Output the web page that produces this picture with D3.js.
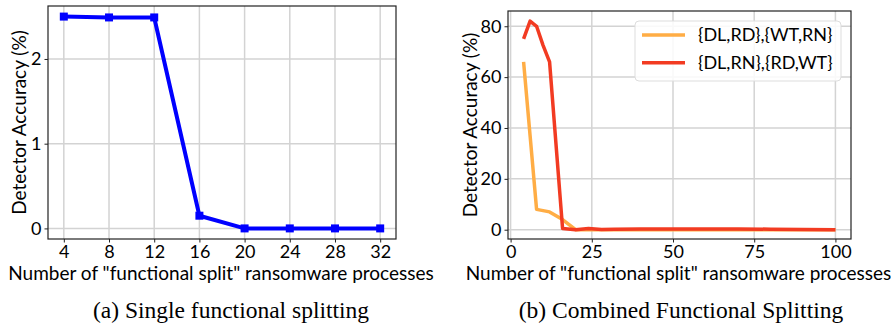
<!DOCTYPE html>
<html>
<head>
<meta charset="utf-8">
<script src="https://cdn.jsdelivr.net/npm/d3@7"></script>
<style>
  body { margin: 0; background: #fff; }
  text { font-family: Lato, "Open Sans", sans-serif; fill: #000; }
  .caption { font-family: "Liberation Serif", "DejaVu Serif", serif; }
</style>
</head>
<body>
<svg id="chart" width="891" height="327"></svg>
<script>
// (a) single functional splitting
const singleX = [4, 8, 12, 16, 20, 24, 28, 32];
const singleAcc = [2.5, 2.49, 2.49, 0.15, 0, 0, 0, 0];
const singleYTicks = [0, 1, 2];

// (b) combined functional splitting
const comboX = [4, 6, 8, 10, 12, 16, 20, 24, 28, 32, 40, 50, 60, 70, 80, 90, 100];
const dlrdAcc = [66, 37, 8, 7.5, 7, 4, 0, 0, 0, 0, 0, 0, 0, 0, 0, 0, 0];
const dlrnAcc = [75, 82, 80, 72.5, 66, 0.5, 0, 0.5, 0.1, 0.2, 0.3, 0.3, 0.3, 0.3, 0.2, 0.1, 0];
const comboXTicks = [0, 25, 50, 75, 100];
const comboYTicks = [0, 20, 40, 60, 80];
const seriesNames = ["{DL,RD},{WT,RN}", "{DL,RN},{RD,WT}"];

const xLabel = 'Number of "functional split" ransomware processes';
const yLabel = "Detector Accuracy (%)";

const svg = d3.select("#chart");
const fontSize = 18;

function panel(box, x, y, xTicks, yTicks) {
  const g = svg.append("g");

  // grid
  g.selectAll(".gx").data(xTicks).enter().append("line")
    .attr("x1", d => x(d)).attr("x2", d => x(d))
    .attr("y1", box.top).attr("y2", box.bottom)
    .attr("stroke", "#d3d3d3").attr("stroke-width", 1.5);
  g.selectAll(".gy").data(yTicks).enter().append("line")
    .attr("x1", box.left).attr("x2", box.right)
    .attr("y1", d => y(d)).attr("y2", d => y(d))
    .attr("stroke", "#d3d3d3").attr("stroke-width", 1.5);

  // axes
  const ax = g.append("g")
    .attr("transform", "translate(0," + box.bottom + ")")
    .call(d3.axisBottom(x).tickValues(xTicks).tickFormat(d3.format("d"))
      .tickSize(3.5).tickPadding(2.5).tickSizeOuter(0));
  const ay = g.append("g")
    .attr("transform", "translate(" + box.left + ",0)")
    .call(d3.axisLeft(y).tickValues(yTicks).tickFormat(d3.format("d"))
      .tickSize(3.5).tickPadding(3).tickSizeOuter(0));
  [ax, ay].forEach(a => {
    a.select(".domain").remove();
    a.selectAll("text").style("font-size", fontSize + "px").attr("font-family", null);
    a.selectAll("line").attr("stroke", "#222");
  });

  // frame
  g.append("rect")
    .attr("x", box.left).attr("y", box.top)
    .attr("width", box.right - box.left).attr("height", box.bottom - box.top)
    .attr("fill", "none").attr("stroke", "#222").attr("stroke-width", 1.2);

  // labels
  g.append("text")
    .attr("x", (box.left + box.right) / 2 - 1).attr("y", 280)
    .attr("text-anchor", "middle").style("font-size", "19px")
    .text(xLabel);
  g.append("text")
    .attr("transform", "translate(" + box.ylabX + "," + (box.top + box.bottom) / 2 + ")rotate(-90)")
    .attr("text-anchor", "middle").style("font-size", "19px")
    .text(yLabel);
  return g;
}

// ---- left panel
const boxA = { left: 48, right: 396, top: 6, bottom: 239, ylabX: 26 };
const xa = d3.scaleLinear().domain([2.6, 33.4]).range([boxA.left, boxA.right]);
const ya = d3.scaleLinear().domain([-0.125, 2.625]).range([boxA.bottom, boxA.top]);
const ga = panel(boxA, xa, ya, singleX, singleYTicks);

const lineA = d3.line().x((d, i) => xa(singleX[i])).y(d => ya(d));
ga.append("path").datum(singleAcc)
  .attr("d", lineA).attr("fill", "none")
  .attr("stroke", "#0000ff").attr("stroke-width", 4).attr("stroke-linejoin", "round");
ga.selectAll(".mk").data(singleAcc).enter().append("rect")
  .attr("x", (d, i) => xa(singleX[i]) - 4).attr("y", d => ya(d) - 4)
  .attr("width", 8).attr("height", 8).attr("fill", "#0000ff");

// ---- right panel
const boxB = { left: 508, right: 851, top: 11, bottom: 239, ylabX: 477 };
const xb = d3.scaleLinear().domain([-0.8, 104.8]).range([boxB.left, boxB.right]);
const yb = d3.scaleLinear().domain([-3.66, 86]).range([boxB.bottom, boxB.top]);
const gb = panel(boxB, xb, yb, comboXTicks, comboYTicks);

const colors = ["#ffad45", "#f23b22"];
const lineB = d3.line().x((d, i) => xb(comboX[i])).y(d => yb(d));
[dlrdAcc, dlrnAcc].forEach((s, k) => {
  gb.append("path").datum(s)
    .attr("d", lineB).attr("fill", "none")
    .attr("stroke", colors[k]).attr("stroke-width", 3.5).attr("stroke-linejoin", "round");
});

// legend
const leg = gb.append("g");
leg.append("rect")
  .attr("x", 635).attr("y", 21).attr("width", 206).attr("height", 60).attr("rx", 4)
  .attr("fill", "#fff").attr("fill-opacity", 0.85).attr("stroke", "#ddd");
seriesNames.forEach((n, k) => {
  const yy = 35 + k * 27.7;
  leg.append("line").attr("x1", 642).attr("x2", 685).attr("y1", yy).attr("y2", yy)
    .attr("stroke", colors[k]).attr("stroke-width", 3.5);
  leg.append("text").attr("x", 698).attr("y", yy + 6)
    .style("font-size", fontSize + "px").text(n);
});

// captions
svg.append("text").attr("class", "caption")
  .attr("x", 231).attr("y", 318).attr("text-anchor", "middle")
  .style("font-size", "23.5px").text("(a) Single functional splitting");
svg.append("text").attr("class", "caption")
  .attr("x", 681).attr("y", 318).attr("text-anchor", "middle")
  .style("font-size", "23.5px").text("(b) Combined Functional Splitting");
</script>
</body>
</html>
